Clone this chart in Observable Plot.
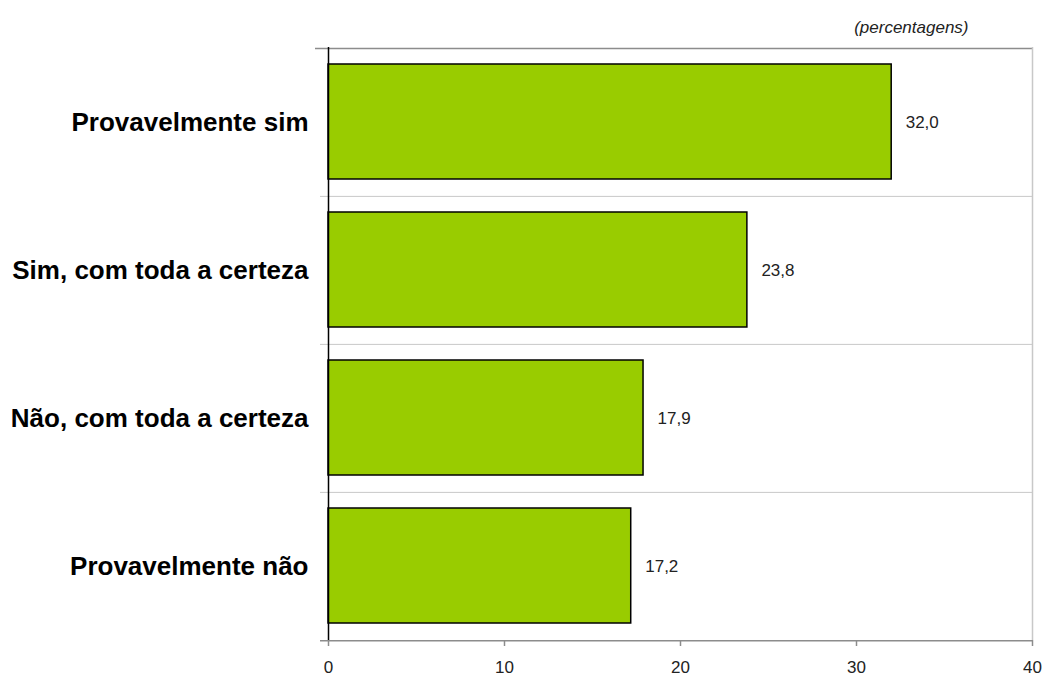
<!DOCTYPE html>
<html>
<head>
<meta charset="utf-8">
<script src="https://cdn.jsdelivr.net/npm/d3@7"></script>
<script src="https://cdn.jsdelivr.net/npm/@observablehq/plot@0.6"></script>
<style>
  html, body { margin: 0; padding: 0; background: #fff; }
  #chart { width: 1050px; height: 678px; }
</style>
</head>
<body>
<div id="chart"></div>
<script>
const categories = ["Provavelmente sim", "Sim, com toda a certeza", "Não, com toda a certeza", "Provavelmente não"];
const values = [32.0, 23.8, 17.9, 17.2];
const xTicks = [0, 10, 20, 30, 40];
const unitNote = "(percentagens)";

const data = categories.map((c, i) => ({category: c, value: values[i]}));

const W = 1050, H = 678;
const mTop = 47, mBottom = 38, mLeft = 328, mRight = 18;
const step = (H - mTop - mBottom) / categories.length;
const fmt = v => v.toFixed(1).replace(".", ",");
const font = "Liberation Sans, Arial, Helvetica, sans-serif";

const chart = Plot.plot({
  width: W,
  height: H,
  marginTop: mTop,
  marginBottom: mBottom,
  marginLeft: mLeft,
  marginRight: mRight,
  style: {fontFamily: font, background: "#fff"},
  x: {domain: [0, 40], axis: null, label: null},
  y: {domain: categories, paddingInner: 0, paddingOuter: 0, axis: null, label: null},
  marks: [
    Plot.ruleY(categories.slice(1), {y: d => d, dy: -step / 2, x1: 0, x2: 40, insetLeft: -8, stroke: "#c8c8c8", strokeWidth: 1}),
    Plot.ruleY([categories[0]], {y: d => d, dy: -step / 2, x1: 0, x2: 40, insetLeft: -13, stroke: "#8c8c8c", strokeWidth: 1.5}),
    Plot.ruleY([categories[categories.length - 1]], {y: d => d, dy: step / 2, x1: 0, x2: 40, insetLeft: -8, stroke: "#8c8c8c", strokeWidth: 1.5}),
    Plot.ruleX([40], {stroke: "#c8c8c8", strokeWidth: 1.5}),
    Plot.barX(data, {y: "category", x: "value", fill: "#99cc00", stroke: "#000", strokeWidth: 1.5, insetTop: 16, insetBottom: 17}),
    Plot.ruleX([0], {stroke: "#000", strokeWidth: 1.5}),
    Plot.axisX({ticks: xTicks, tickSize: 6, stroke: "#8c8c8c", strokeWidth: 1.5, fill: "#222", fontSize: 17, tickPadding: 14, tickFormat: d => String(d), anchor: "bottom", label: null}),
    Plot.axisY({anchor: "left", tickSize: 0, tickPadding: 20, fontSize: 26, fontWeight: "bold", fill: "#000", label: null}),
    Plot.text(data, {y: "category", x: "value", text: d => fmt(d.value), textAnchor: "start", dx: 14, fontSize: 17, fill: "#222"}),
    Plot.text([unitNote], {frameAnchor: "top-right", dx: -64, dy: -27, fontSize: 17, fontStyle: "italic", fill: "#222"})
  ]
});

document.getElementById("chart").appendChild(chart);
</script>
</body>
</html>
